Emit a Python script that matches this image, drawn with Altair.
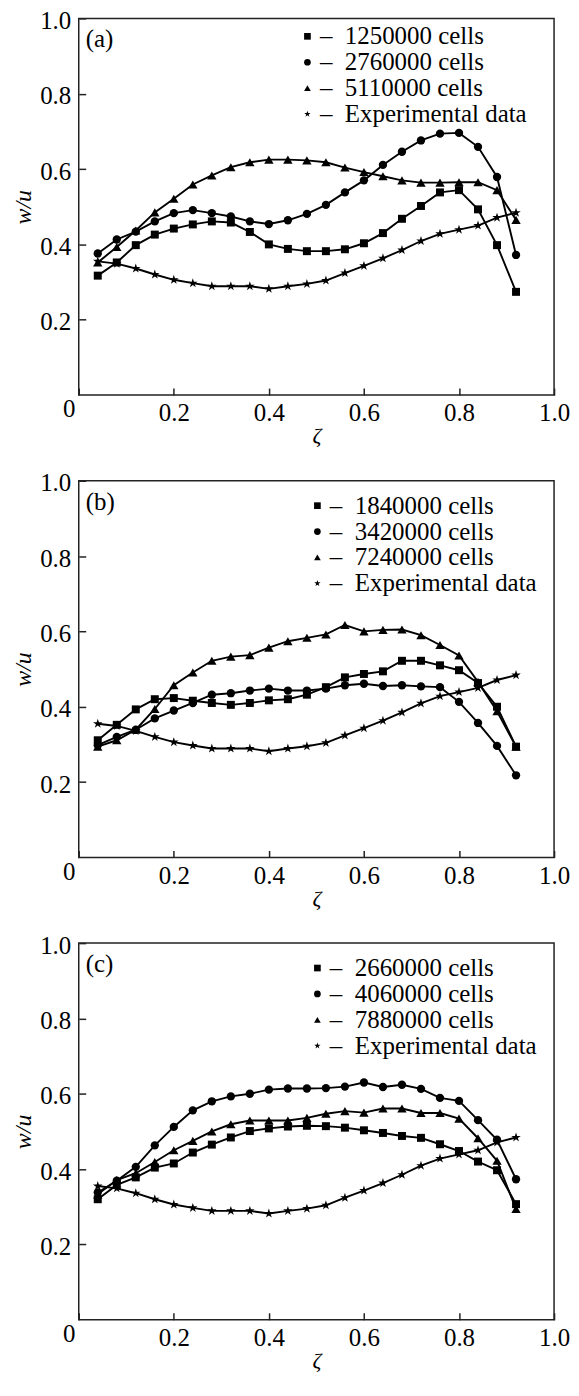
import altair as alt
import pandas as pd

FONT = "Liberation Serif"

# ---------------- data ----------------
zeta = [0.04, 0.08, 0.12, 0.16, 0.20, 0.24, 0.28, 0.32, 0.36, 0.40, 0.44, 0.48,
        0.52, 0.56, 0.60, 0.64, 0.68, 0.72, 0.76, 0.80, 0.84, 0.88, 0.92]

experimental = [0.355, 0.349, 0.336, 0.320, 0.306, 0.297, 0.289, 0.289, 0.289, 0.282, 0.289, 0.295,
                0.304, 0.324, 0.343, 0.363, 0.385, 0.409, 0.428, 0.439, 0.450, 0.471, 0.484]

# panel (a)
a_names = ["1250000 cells", "2760000 cells", "5110000 cells", "Experimental data"]
a_1250000 = [0.317, 0.352, 0.398, 0.426, 0.442, 0.453, 0.461, 0.458, 0.433, 0.400, 0.388, 0.382,
             0.382, 0.387, 0.403, 0.430, 0.468, 0.502, 0.538, 0.544, 0.493, 0.398, 0.274]
a_2760000 = [0.376, 0.413, 0.434, 0.461, 0.483, 0.491, 0.483, 0.474, 0.461, 0.454, 0.464, 0.481,
             0.505, 0.538, 0.570, 0.611, 0.646, 0.676, 0.694, 0.696, 0.659, 0.579, 0.372]
a_5110000 = [0.352, 0.393, 0.437, 0.485, 0.521, 0.559, 0.583, 0.605, 0.618, 0.625, 0.625, 0.623,
             0.618, 0.604, 0.592, 0.581, 0.570, 0.564, 0.564, 0.565, 0.565, 0.544, 0.465]

# panel (b)
b_names = ["1840000 cells", "3420000 cells", "7240000 cells", "Experimental data"]
b_1840000 = [0.311, 0.352, 0.393, 0.420, 0.423, 0.416, 0.410, 0.405, 0.410, 0.417, 0.420, 0.432,
             0.452, 0.478, 0.487, 0.494, 0.522, 0.522, 0.510, 0.497, 0.463, 0.400, 0.294]
b_3420000 = [0.298, 0.320, 0.339, 0.369, 0.390, 0.410, 0.432, 0.436, 0.443, 0.448, 0.443, 0.443,
             0.448, 0.457, 0.461, 0.455, 0.457, 0.454, 0.452, 0.413, 0.357, 0.296, 0.218]
b_7240000 = [0.294, 0.311, 0.339, 0.394, 0.457, 0.491, 0.522, 0.533, 0.537, 0.557, 0.574, 0.583,
             0.592, 0.617, 0.600, 0.604, 0.605, 0.590, 0.564, 0.536, 0.466, 0.388, 0.294]

# panel (c)
c_names = ["2660000 cells", "4060000 cells", "7880000 cells", "Experimental data"]
c_2660000 = [0.320, 0.358, 0.378, 0.404, 0.415, 0.444, 0.465, 0.484, 0.501, 0.508, 0.513, 0.515,
             0.514, 0.510, 0.503, 0.496, 0.488, 0.483, 0.466, 0.448, 0.420, 0.397, 0.307]
c_4060000 = [0.338, 0.369, 0.406, 0.463, 0.512, 0.556, 0.580, 0.593, 0.600, 0.611, 0.614, 0.614,
             0.615, 0.619, 0.630, 0.618, 0.624, 0.613, 0.589, 0.581, 0.530, 0.478, 0.373]
c_7880000 = [0.333, 0.371, 0.389, 0.419, 0.450, 0.475, 0.500, 0.519, 0.529, 0.529, 0.529, 0.536,
             0.547, 0.554, 0.550, 0.561, 0.561, 0.549, 0.549, 0.534, 0.482, 0.422, 0.294]

x_ticks = [0, 0.2, 0.4, 0.6, 0.8, 1.0]
y_ticks = [0.2, 0.4, 0.6, 0.8, 1.0]

# ---------------- styling ----------------
STAR = ("M0,-1L0.225,-0.309L0.951,-0.309L0.363,0.118L0.588,0.809L0,0.382"
        "L-0.588,0.809L-0.363,0.118L-0.951,-0.309L-0.225,-0.309Z")
shapes = ["square", "circle", "triangle-up", STAR]

zero_test = "datum.value == 0"

x_axis = alt.Axis(
    values=x_ticks,
    labelExpr="datum.value == 0 ? '0' : format(datum.value, '.1f')",
    title="ζ", domain=False, grid=False, offset=-7, tickSize=7, tickWidth=1.5,
    tickColor="#222", labelFont=FONT, labelFontSize=25, labelColor="black",
    labelPadding={"condition": {"test": zero_test, "value": 2}, "value": 6},
    labelOffset={"condition": {"test": zero_test, "value": -10}, "value": 0},
    labelFlush=False, labelOverlap=False,
    titleFont=FONT, titleFontSize=22, titleFontStyle="italic", titleFontWeight="normal",
    titleColor="black", titlePadding=0,
)
y_axis = alt.Axis(
    values=y_ticks, format=".1f",
    title="w/u", domain=False, grid=False, offset=-7, tickSize=7, tickWidth=1.5,
    tickColor="#222", labelFont=FONT, labelFontSize=25, labelColor="black",
    labelPadding=8, labelOffset=2, labelFlush=False, labelOverlap=False,
    titleFont=FONT, titleFontSize=24, titleFontStyle="italic", titleFontWeight="normal",
    titleColor="black", titlePadding=4,
)


def panel(tag, names, series_list, lx, ly):
    rows = []
    for name, vals in zip(names, series_list):
        for xv, yv in zip(zeta, vals):
            rows.append({"zeta": xv, "w_u": yv, "series": name})
    df = pd.DataFrame(rows)
    x = alt.X("zeta:Q", scale=alt.Scale(domain=[0, 1], nice=False, zero=False), axis=x_axis)
    y = alt.Y("w_u:Q", scale=alt.Scale(domain=[0, 1], nice=False, zero=False), axis=y_axis)
    base = alt.Chart(df)
    line = base.mark_line(color="black", strokeWidth=1.9).encode(
        x=x, y=y, detail="series:N", order="zeta:Q")
    size = (alt.when(alt.datum.series == names[1]).then(alt.value(70))
            .when(alt.datum.series == names[2]).then(alt.value(88))
            .when(alt.datum.series == names[3]).then(alt.value(100))
            .otherwise(alt.value(64)))
    pts = base.mark_point(filled=True, color="black", opacity=1).encode(
        x=x, y=y,
        shape=alt.Shape("series:N", scale=alt.Scale(domain=names, range=shapes),
                        legend=alt.Legend(
                            title=None, orient="none", legendX=lx, legendY=ly,
                            symbolSize=45, symbolFillColor="black", symbolStrokeColor="black",
                            symbolStrokeWidth=0, symbolOpacity=1,
                            labelFont=FONT, labelFontSize=25, labelColor="black",
                            labelOffset=0, rowPadding=0, padding=0, labelLimit=500,
                            labelExpr="'\u2013\u00a0\u00a0' + datum.label")),
        size=size,
    )
    lab = alt.Chart(pd.DataFrame({"t": [tag]})).mark_text(
        font=FONT, fontSize=25, align="left", baseline="middle", color="black"
    ).encode(text="t:N", x=alt.value(7), y=alt.value(21))
    return alt.layer(line, pts, lab).properties(width=477, height=378)


pa = panel("(a)", a_names, [a_1250000, a_2760000, a_5110000, experimental], 217, 5.5)
pb = panel("(b)", b_names, [b_1840000, b_3420000, b_7240000, experimental], 227, 12.5)
pc = panel("(c)", c_names, [c_2660000, c_4060000, c_7880000, experimental], 227, 12.5)

chart = (
    alt.vconcat(pa, pb, pc, spacing=22)
    .resolve_scale(shape="independent")
    .resolve_legend(shape="independent")
    .properties(padding={"left": 3, "top": -3, "right": 0, "bottom": 0})
    .configure_view(stroke="#222", strokeWidth=1.5)
)

chart.save("out.html", embed_options={"renderer": "svg", "actions": False})
